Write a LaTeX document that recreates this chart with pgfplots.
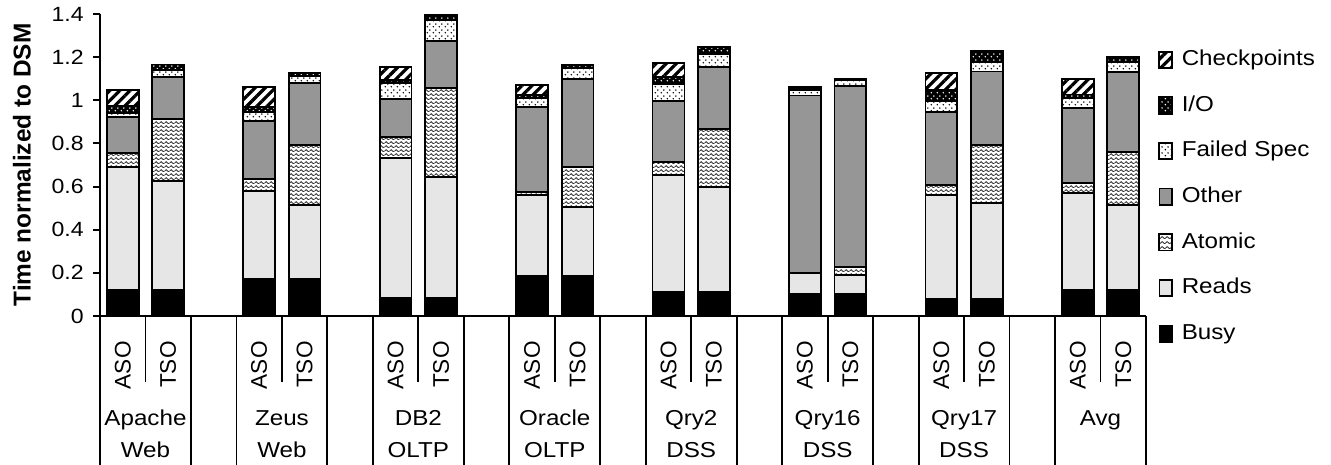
\documentclass[border=0pt]{standalone}
\usepackage{pgfplots}
\pgfplotsset{compat=1.18}
\usepackage{pgfplotstable}
\usepackage{fontspec}
\setmainfont{Liberation Sans}
\newfontfamily\widefont[FakeStretch=1.12]{Liberation Sans}
\usetikzlibrary{patterns,patterns.meta}

% wavy hatching for the Atomic segments
\pgfdeclarepattern{
  name=wavy,
  type=uncolored,
  bottom left={\pgfpoint{0pt}{0pt}},
  top right={\pgfpoint{2.4pt}{2.2pt}},
  tile size={\pgfpoint{2.4pt}{2.2pt}},
  code={
    \pgfsetlinewidth{0.45pt}
    \pgfpathmoveto{\pgfpoint{0pt}{0.7pt}}
    \pgfpathcurveto{\pgfpoint{0.4pt}{1.5pt}}{\pgfpoint{0.8pt}{1.5pt}}{\pgfpoint{1.2pt}{0.7pt}}
    \pgfpathcurveto{\pgfpoint{1.6pt}{-0.1pt}}{\pgfpoint{2.0pt}{-0.1pt}}{\pgfpoint{2.4pt}{0.7pt}}
    \pgfusepath{stroke}
  }
}
% staggered dots for Failed Spec and I/O
\pgfdeclarepattern{
  name=sdots,
  type=uncolored,
  bottom left={\pgfpoint{0pt}{0pt}},
  top right={\pgfpoint{3pt}{2.8pt}},
  tile size={\pgfpoint{3pt}{2.8pt}},
  code={
    \pgfpathcircle{\pgfpoint{0.75pt}{0.7pt}}{0.45pt}
    \pgfpathcircle{\pgfpoint{2.25pt}{2.1pt}}{0.45pt}
    \pgfusepath{fill}
  }
}

\definecolor{othergray}{RGB}{150,150,150}
\definecolor{readgray}{RGB}{230,230,230}

% stacked segments of each bar (x = slot position)
\pgfplotstableread{
x   busy  reads atomic other failed io    ckpt
0   0.120 0.570 0.065 0.167 0.018 0.035 0.074
1   0.120 0.505 0.288 0.196 0.030 0.027 0
3   0.170 0.409 0.056 0.270 0.042 0.023 0.093
4   0.170 0.345 0.276 0.289 0.033 0.015 0
6   0.085 0.649 0.097 0.174 0.075 0.014 0.062
7   0.085 0.558 0.415 0.218 0.098 0.021 0
9   0.185 0.376 0.015 0.392 0.041 0.016 0.046
10  0.185 0.322 0.185 0.408 0.048 0.016 0
12  0.111 0.543 0.061 0.282 0.077 0.035 0.065
13  0.111 0.486 0.269 0.288 0.061 0.033 0
15  0.103 0.095 0     0.824 0.024 0.017 0
16  0.103 0.087 0.039 0.839 0.026 0.007 0
18  0.077 0.484 0.046 0.339 0.048 0.054 0.080
19  0.077 0.445 0.269 0.342 0.046 0.051 0
21  0.121 0.448 0.046 0.351 0.043 0.018 0.070
22  0.121 0.392 0.249 0.368 0.049 0.020 0
}\datatable

\tikzset{grp/.style={font=\widefont\fontsize{10.8}{12}\selectfont, inner sep=0pt, anchor=base}}

\begin{document}
\begin{tikzpicture}
\begin{axis}[
  scale only axis, width=523pt, height=151pt,
  ybar stacked, bar width=0.7,
  xmin=-0.5, xmax=22.5, ymin=0, ymax=1.4,
  axis x line*=bottom, axis y line*=left,
  axis line style={line width=1pt, -},
  ytick={0,0.2,0.4,0.6,0.8,1,1.2,1.4},
  tick align=outside, major tick length=3.5pt,
  ytick style={line width=1pt, black},
  xtick={0,1,3,4,6,7,9,10,12,13,15,16,18,19,21,22},
  xticklabels={ASO,TSO,ASO,TSO,ASO,TSO,ASO,TSO,ASO,TSO,ASO,TSO,ASO,TSO,ASO,TSO},
  xtick style={draw=none},
  xticklabel style={rotate=90, anchor=east, inner sep=0pt, font=\fontsize{11.3}{13}\selectfont},
  xticklabel shift=9pt,
  yticklabel style={font=\widefont\fontsize{10.3}{12}\selectfont, inner sep=0pt},
  yticklabel shift=4.5pt,
  /pgf/number format/assume math mode=true,
  ylabel={Time normalized to DSM},
  ylabel style={font=\bfseries\fontsize{12.2}{14}\selectfont, at={(axis description cs:-0.0746,0.5)}, anchor=center},
  clip=false,
  every axis plot/.append style={draw=black, line width=0.9pt},
  legend cell align=left, reverse legend,
  legend image code/.code={\draw[#1, line width=0.8pt] (0pt,-4.1pt) rectangle (6.3pt,4.1pt);},
  legend style={draw=none, fill=none, inner sep=0pt, outer sep=0pt,
    font=\widefont\fontsize{10.8}{13}\selectfont,
    at={(axis description cs:1.012,0.882)}, anchor=north west,
    row sep=12.5pt,
    nodes={inner sep=0pt, text height=8pt, text depth=2.3pt},
    /tikz/every odd column/.append style={column sep=4.5pt}},
]
\addplot[fill=black] table[x=x, y=busy] {\datatable};
\addlegendentry{Busy}
\addplot[fill=readgray] table[x=x, y=reads] {\datatable};
\addlegendentry{Reads}
\addplot[preaction={fill=white}, pattern=wavy, pattern color=black!80] table[x=x, y=atomic] {\datatable};
\addlegendentry{Atomic}
\addplot[fill=othergray] table[x=x, y=other] {\datatable};
\addlegendentry{Other}
\addplot[preaction={fill=white}, pattern=sdots, pattern color=black] table[x=x, y=failed] {\datatable};
\addlegendentry{Failed Spec}
\addplot[preaction={fill=black}, pattern=sdots, pattern color=white] table[x=x, y=io] {\datatable};
\addlegendentry{I/O}
\addplot[preaction={fill=white}, pattern={Lines[angle=45,distance=3.6pt,line width=1.6pt]}] table[x=x, y=ckpt] {\datatable};
\addlegendentry{Checkpoints}

% category separators below the axis
\pgfplotsinvokeforeach{-0.5,1.5,2.5,4.5,5.5,7.5,8.5,10.5,11.5,13.5,14.5,16.5,17.5,19.5,20.5,22.5}{
  \draw[line width=0.9pt] (axis cs:#1,0) -- ++(0pt,-74.5pt);
}
\pgfplotsinvokeforeach{0.5,3.5,6.5,9.5,12.5,15.5,18.5,21.5}{
  \draw[line width=0.9pt] (axis cs:#1,0) -- ++(0pt,-33pt);
}
% workload names
\path (axis cs:0.5,0)  ++(0pt,-54.75pt) node[grp]{Apache} ++(0pt,-16pt) node[grp]{Web};
\path (axis cs:3.5,0)  ++(0pt,-54.75pt) node[grp]{Zeus}   ++(0pt,-16pt) node[grp]{Web};
\path (axis cs:6.5,0)  ++(0pt,-54.75pt) node[grp]{DB2}    ++(0pt,-16pt) node[grp]{OLTP};
\path (axis cs:9.5,0)  ++(0pt,-54.75pt) node[grp]{Oracle} ++(0pt,-16pt) node[grp]{OLTP};
\path (axis cs:12.5,0) ++(0pt,-54.75pt) node[grp]{Qry2}   ++(0pt,-16pt) node[grp]{DSS};
\path (axis cs:15.5,0) ++(0pt,-54.75pt) node[grp]{Qry16}  ++(0pt,-16pt) node[grp]{DSS};
\path (axis cs:18.5,0) ++(0pt,-54.75pt) node[grp]{Qry17}  ++(0pt,-16pt) node[grp]{DSS};
\path (axis cs:21.5,0) ++(0pt,-54.75pt) node[grp]{Avg};
\end{axis}
\pgfresetboundingbox
\path (-50pt,-74.5pt) rectangle (615.5pt,158pt);
\end{tikzpicture}
\end{document}
